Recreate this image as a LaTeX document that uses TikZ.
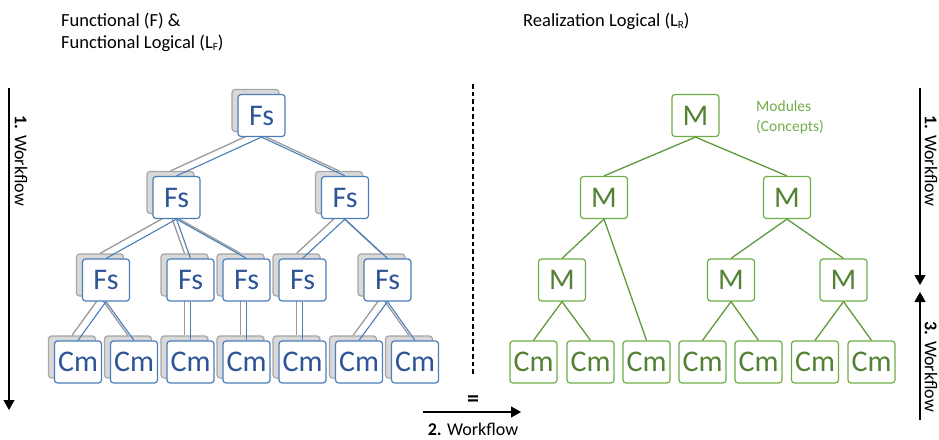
\documentclass[tikz,border=0pt]{standalone}
\usepackage{fontspec}
\setmainfont{Carlito}
\usetikzlibrary{arrows.meta}
\pgfdeclarelayer{lA}\pgfdeclarelayer{lB}\pgfdeclarelayer{lC}
\pgfsetlayers{lA,lB,lC,main}
\definecolor{bbord}{HTML}{4A7EBB}
\definecolor{btext}{HTML}{2E5597}
\definecolor{blinec}{HTML}{4A7EBB}
\definecolor{sfill}{HTML}{D9D9D9}
\definecolor{sbord}{HTML}{A6A6A6}
\definecolor{glinec}{HTML}{9A9A9A}
\definecolor{gbord}{HTML}{70AD47}
\definecolor{gtext}{HTML}{548235}
\definecolor{mlinec}{HTML}{5E9A3C}
\newcommand\subtx[1]{\raisebox{-0.25ex}{\fontsize{11}{12}\selectfont #1}}
\tikzset{
 fbox/.style={draw=bbord, fill=white, line width=1.2pt, rounded corners=3pt, minimum width=47pt, minimum height=42pt, inner sep=0pt, text=btext, font=\fontsize{30}{32}\selectfont},
 sbox/.style={draw=sbord, fill=sfill, line width=1.2pt, rounded corners=3pt, minimum width=47pt, minimum height=42pt, inner sep=0pt},
 mbox/.style={fbox, draw=gbord, text=gtext},
 gline/.style={draw=glinec, line width=1.3pt},
 bline/.style={draw=blinec, line width=1.1pt},
 mline/.style={draw=mlinec, line width=1.3pt},
 flow/.style={-{Triangle[length=10pt,width=11pt]}, line width=1.2pt},
 wtext/.style={font=\fontsize{18}{20}\selectfont, rotate=-90, inner sep=0pt},
 ttext/.style={anchor=base west, inner sep=0pt, font=\fontsize{18.5}{20}\selectfont},
}
\newcommand\fsnode[4]{%
  \begin{pgfonlayer}{lA}\node[sbox] (s#1) at (#2-6,#3-5) {};\end{pgfonlayer}
  \node[fbox] (#1) at (#2,#3) {#4};}
\begin{document}
\begin{tikzpicture}[x=1pt,y=-1pt]
\useasboundingbox (0,0) rectangle (939,439);
% titles
\node[ttext] (t1) at (61,26) {Functional (F) \&};
\node[ttext] (t2) at (61,48) {Functional Logical (L\subtx{F})};
\node[ttext] (t3) at (523,26) {Realization Logical (L\subtx{R})};
% left tree
\fsnode{T}{261.5}{115.5}{Fs}
\fsnode{A}{176.5}{197.5}{Fs}
\fsnode{B}{345}{197.5}{Fs}
\fsnode{a}{106}{280}{Fs}
\fsnode{b}{190.5}{280}{Fs}
\fsnode{c}{246.5}{280}{Fs}
\fsnode{d}{302.5}{280}{Fs}
\fsnode{e}{387.5}{280}{Fs}
\fsnode{c1}{78}{362}{Cm}
\fsnode{c2}{134}{362}{Cm}
\fsnode{c3}{190.5}{362}{Cm}
\fsnode{c4}{246.5}{362}{Cm}
\fsnode{c5}{302.5}{362}{Cm}
\fsnode{c6}{359}{362}{Cm}
\fsnode{c7}{415}{362}{Cm}
\begin{pgfonlayer}{lB}
\foreach \p/\q in {T/A,T/B,A/a,A/b,A/c,B/d,B/e,a/c1,a/c2,b/c3,c/c4,d/c5,e/c6,e/c7}
  {\draw[gline] (s\p.south) -- (s\q.north);}
\end{pgfonlayer}
\begin{pgfonlayer}{lC}
\foreach \p/\q in {T/A,T/B,A/a,A/b,A/c,B/d,B/e,a/c1,a/c2,b/c3,c/c4,d/c5,e/c6,e/c7}
  {\draw[bline] (\p.south) -- (\q.north);}
\end{pgfonlayer}
% right tree
\node[mbox] (M0) at (695.5,115.5) {M};
\node[mbox] (M1) at (604,197.5) {M};
\node[mbox] (M2) at (787,197.5) {M};
\node[mbox] (M3) at (562,280) {M};
\node[mbox] (M4) at (731,280) {M};
\node[mbox] (M5) at (843.5,280) {M};
\node[mbox] (K1) at (533.5,362) {Cm};
\node[mbox] (K2) at (590.5,362) {Cm};
\node[mbox] (K3) at (646.5,362) {Cm};
\node[mbox] (K4) at (702.5,362) {Cm};
\node[mbox] (K5) at (758.5,362) {Cm};
\node[mbox] (K6) at (815,362) {Cm};
\node[mbox] (K7) at (871.5,362) {Cm};
\foreach \p/\q in {M0/M1,M0/M2,M1/M3,M1/K3,M2/M4,M2/M5,M3/K1,M3/K2,M4/K4,M4/K5,M5/K6,M5/K7}
  {\draw[mline] (\p.south) -- (\q.north);}
\node[anchor=base west, inner sep=0pt, text=gbord, font=\fontsize{15.5}{18}\selectfont] (mod1) at (756,111) {Modules};
\node[anchor=base west, inner sep=0pt, text=gbord, font=\fontsize{15.5}{18}\selectfont] (mod2) at (756,131) {(Concepts)};
% separator
\coordinate (d1) at (473,84);
\coordinate (d2) at (473,376);
\draw[line width=1.2pt, dash pattern=on 4.5pt off 3pt] (d1) -- (d2);
% workflow arrows
\coordinate (la1) at (9,88);
\coordinate (la2) at (9,410);
\draw[flow] (la1) -- (la2);
\node[wtext] (lw) at (21,161) {\textbf{1.} Workflow};
\coordinate (ra1) at (920,88);
\coordinate (ra2) at (920,285);
\draw[flow] (ra1) -- (ra2);
\node[wtext] (rw1) at (931,161) {\textbf{1.} Workflow};
\coordinate (rb1) at (920,420);
\coordinate (rb2) at (920,292);
\draw[flow] (rb1) -- (rb2);
\node[wtext] (rw3) at (931,367) {\textbf{3.} Workflow};
\coordinate (ba1) at (423,412);
\coordinate (ba2) at (521,412);
\draw[flow] (ba1) -- (ba2);
\node[inner sep=0pt, font=\fontsize{24}{26}\selectfont\bfseries] (eq) at (473,401) {=};
\node[inner sep=0pt, font=\fontsize{18}{20}\selectfont] (bw) at (473,429) {\textbf{2.} Workflow};
\end{tikzpicture}
\end{document}
